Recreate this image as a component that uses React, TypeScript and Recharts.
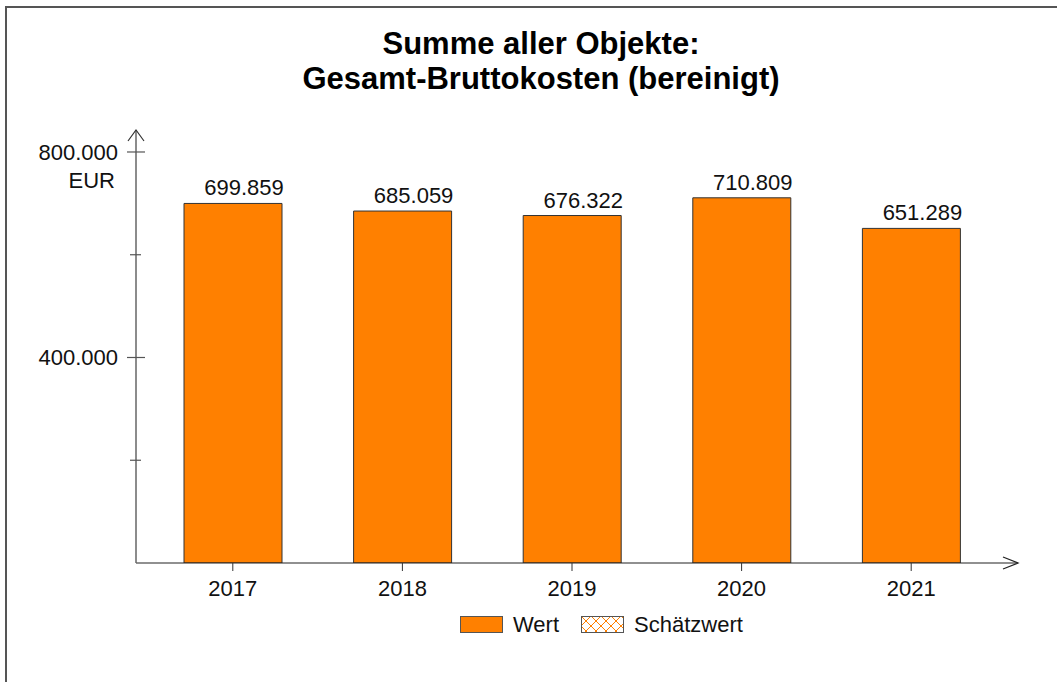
import React from 'react'
import { BarChart, Bar, XAxis, YAxis, LabelList } from 'recharts'

const YEARS = ['2017', '2018', '2019', '2020', '2021']
const WERT = [699859, 685059, 676322, 710809, 651289]
const Y_TICKS = [200000, 400000, 600000, 800000]
const Y_LABELED = [400000, 800000]
const TITLE_LINES = ['Summe aller Objekte:', 'Gesamt-Bruttokosten (bereinigt)']
const LEGEND_ITEMS = ['Wert', 'Schätzwert']

const FONT = '"Liberation Sans", Arial, sans-serif'
const ORANGE = '#FF8000'

const fmt = (v: number) => v.toLocaleString('de-DE')

const data = YEARS.map((year, i) => ({ year, wert: WERT[i] }))

const YTick = (props: any) => {
  const { x, y, payload } = props
  const major = Y_LABELED.includes(payload.value)
  return (
    <g>
      <line x1={major ? x - 9 : x - 6} x2={major ? x + 9 : x + 5} y1={y} y2={y} stroke="#555" strokeWidth={1.2} />
      {major && (
        <text x={x - 18} y={y} dy={8} textAnchor="end" fontSize={22} fontFamily={FONT} fill="#111">
          {fmt(payload.value)}
        </text>
      )}
      {payload.value === 800000 && (
        <text x={x - 21} y={y} dy={36} textAnchor="end" fontSize={22} fontFamily={FONT} fill="#111">
          EUR
        </text>
      )}
    </g>
  )
}

const XTick = (props: any) => {
  const { x, y, payload } = props
  return (
    <text x={x} y={y} dy={23} textAnchor="middle" fontSize={22} fontFamily={FONT} fill="#111">
      {payload.value}
    </text>
  )
}

const ValueLabel = (props: any) => {
  const { x, y, width, value } = props
  return (
    <text x={x + width / 2 + 11} y={y - 8} textAnchor="middle" fontSize={22} fontFamily={FONT} fill="#111">
      {fmt(Number(value))}
    </text>
  )
}

const Legend = () => (
  <div
    style={{
      position: 'absolute',
      left: 460,
      top: 612,
      display: 'flex',
      alignItems: 'center',
      fontFamily: FONT,
      fontSize: 22,
      color: '#111',
    }}
  >
    {LEGEND_ITEMS.map((name, i) => (
      <div key={name} style={{ display: 'flex', alignItems: 'center', marginRight: 22 }}>
        <svg width={43} height={18} style={{ marginRight: 10 }}>
          <defs>
            <pattern id="hatch" width={10} height={10} patternUnits="userSpaceOnUse">
              <path d="M0,0 L10,10 M10,0 L0,10" stroke={ORANGE} strokeWidth={1} />
            </pattern>
          </defs>
          <rect x={0.5} y={0.5} width={42} height={16} fill={i === 0 ? ORANGE : 'url(#hatch)'} stroke="#555" />
        </svg>
        <span>{name}</span>
      </div>
    ))}
  </div>
)

export default function App() {
  return (
    <div style={{ position: 'absolute', left: 0, top: 0, width: 1057, height: 682, overflow: 'hidden', background: '#fff' }}>
      <div
        style={{
          position: 'absolute',
          left: 5,
          top: 6,
          width: 1100,
          height: 700,
          borderTop: '2px solid #555',
          borderLeft: '2px solid #555',
        }}
      />
      <div
        style={{
          position: 'absolute',
          left: 0,
          top: 26,
          width: 1082,
          textAlign: 'center',
          fontFamily: FONT,
          fontWeight: 'bold',
          fontSize: 31,
          lineHeight: '35px',
          color: '#000',
        }}
      >
        {TITLE_LINES.map((l) => (
          <div key={l}>{l}</div>
        ))}
      </div>
      <div style={{ position: 'absolute', left: 0, top: 0 }}>
        <BarChart width={1057} height={682} data={data} margin={{ top: 130, right: 39, left: 0, bottom: 79 }}>
          <XAxis
            dataKey="year"
            height={40}
            padding={{ left: 12, right: 22 }}
            axisLine={{ stroke: '#222', strokeWidth: 1.2 }}
            tickLine={{ stroke: '#333' }}
            tickSize={8}
            tick={<XTick />}
          />
          <YAxis
            width={136}
            domain={[0, 842800]}
            ticks={Y_TICKS}
            interval={0}
            allowDataOverflow
            axisLine={{ stroke: '#666', strokeWidth: 1.5 }}
            tickLine={false}
            tickSize={0}
            tickMargin={0}
            tick={<YTick />}
          />
          <Bar dataKey="wert" fill={ORANGE} stroke="#333" strokeWidth={1} barSize={98} isAnimationActive={false}>
            <LabelList dataKey="wert" content={<ValueLabel />} />
          </Bar>
        </BarChart>
      </div>
      <svg width={1057} height={682} style={{ position: 'absolute', left: 0, top: 0, pointerEvents: 'none' }}>
        <polyline points="128,141 136,130 144,141" fill="none" stroke="#333" strokeWidth={1.2} />
        <polyline points="1003,557 1018,563 1003,569" fill="none" stroke="#222" strokeWidth={1.2} />
      </svg>
      <Legend />
    </div>
  )
}
